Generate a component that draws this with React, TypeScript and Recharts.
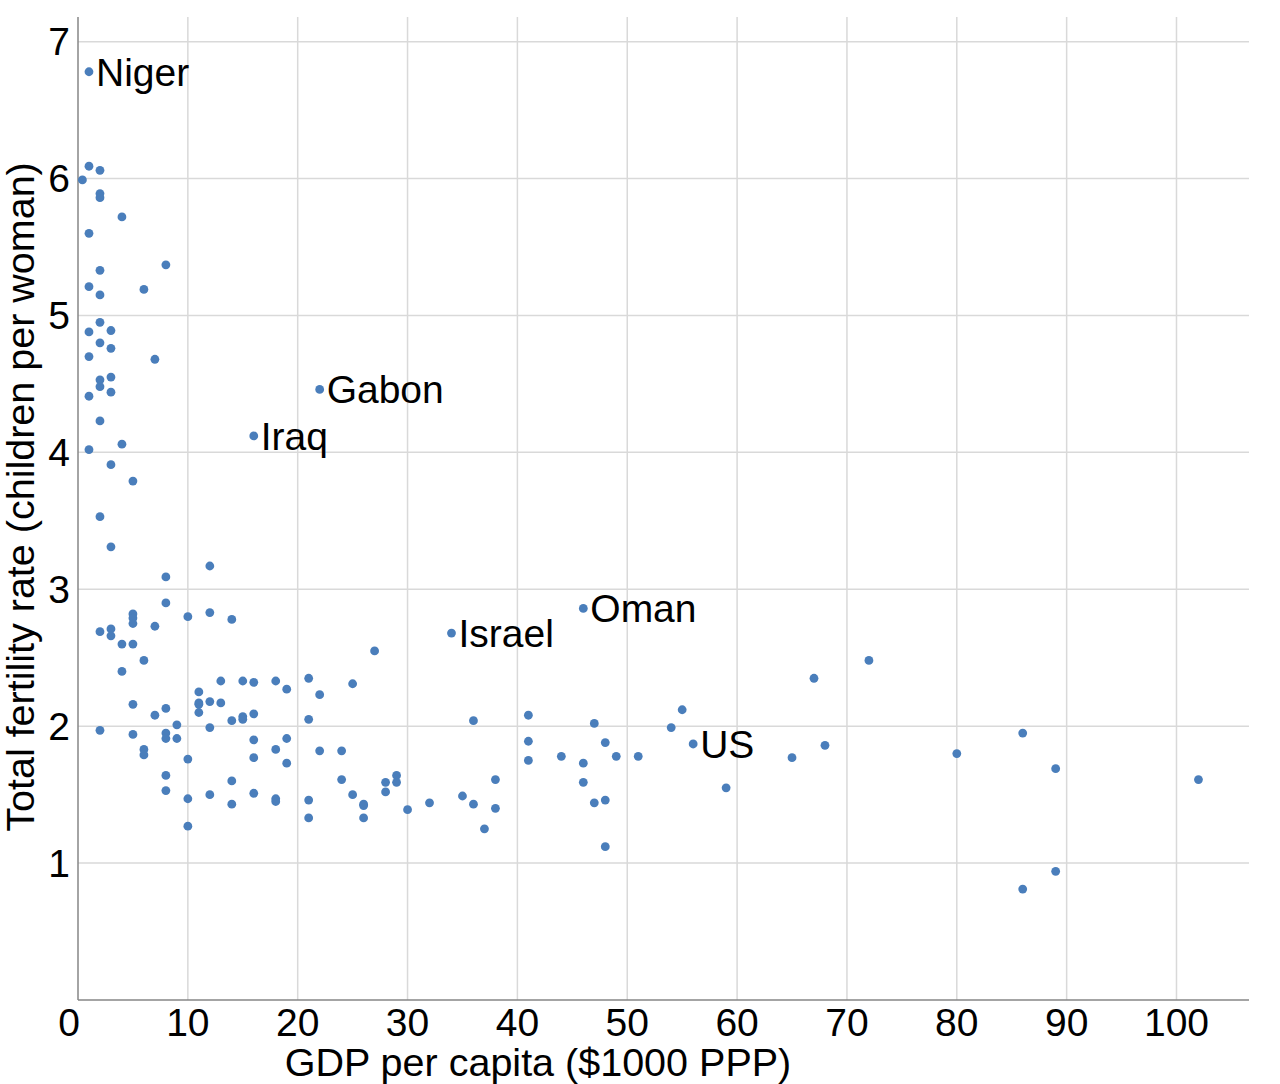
import { ReferenceLine, Scatter, ScatterChart, XAxis, YAxis } from "recharts";

// GDP per capita ($1000 PPP) and fertility rate
const gdp = [
  1, 2, 0.4, 2, 2, 4, 1, 8, 2, 1, 2, 6,
  2, 1, 3, 2, 3, 1, 7, 2, 3, 2, 3, 1, 2, 1, 4, 3, 5, 2, 3,
  12, 8, 8, 5, 5, 5, 10, 12, 14, 7, 2, 3, 3, 4, 5, 6, 4, 27,
  13, 15, 16, 18, 21, 19, 22, 25,
  11, 11, 11, 11, 12, 13, 5, 8, 7, 9, 12, 14, 15, 15, 16, 21,
  2, 5, 8, 8, 9, 16, 19, 6, 6, 10, 16, 18, 19, 22, 24,
  8, 8, 10, 10, 12, 14, 14, 16, 18, 18, 21, 21, 24, 25, 26, 26, 26, 28, 28, 29, 29, 30, 32,
  36, 41, 41, 41, 47, 48, 49, 51, 44, 46, 46, 54, 55, 65, 59, 38, 35, 36, 38, 37, 47, 48, 48,
  67, 72, 68, 80, 86, 89, 102, 89, 86,
];

const fertility = [
  6.09, 6.06, 5.99, 5.89, 5.86, 5.72, 5.6, 5.37, 5.33, 5.21, 5.15, 5.19,
  4.95, 4.88, 4.89, 4.8, 4.76, 4.7, 4.68, 4.53, 4.55, 4.48, 4.44, 4.41, 4.23, 4.02, 4.06, 3.91, 3.79, 3.53, 3.31,
  3.17, 3.09, 2.9, 2.82, 2.79, 2.75, 2.8, 2.83, 2.78, 2.73, 2.69, 2.71, 2.66, 2.6, 2.6, 2.48, 2.4, 2.55,
  2.33, 2.33, 2.32, 2.33, 2.35, 2.27, 2.23, 2.31,
  2.25, 2.17, 2.16, 2.1, 2.18, 2.17, 2.16, 2.13, 2.08, 2.01, 1.99, 2.04, 2.07, 2.05, 2.09, 2.05,
  1.97, 1.94, 1.95, 1.91, 1.91, 1.9, 1.91, 1.83, 1.79, 1.76, 1.77, 1.83, 1.73, 1.82, 1.82,
  1.64, 1.53, 1.47, 1.27, 1.5, 1.6, 1.43, 1.51, 1.47, 1.45, 1.46, 1.33, 1.61, 1.5, 1.43, 1.42, 1.33, 1.59, 1.52, 1.64, 1.59, 1.39, 1.44,
  2.04, 2.08, 1.89, 1.75, 2.02, 1.88, 1.78, 1.78, 1.78, 1.73, 1.59, 1.99, 2.12, 1.77, 1.55, 1.61, 1.49, 1.43, 1.4, 1.25, 1.44, 1.46, 1.12,
  2.35, 2.48, 1.86, 1.8, 1.95, 1.69, 1.61, 0.94, 0.81,
];

const countries = ["Niger", "Gabon", "Iraq", "Israel", "Oman", "US"];
const countryGdp = [1, 22, 16, 34, 46, 56];
const countryFertility = [6.78, 4.46, 4.12, 2.68, 2.86, 1.87];

const xTicks = [0, 10, 20, 30, 40, 50, 60, 70, 80, 90, 100];
const yTicks = [1, 2, 3, 4, 5, 6, 7];

const points = gdp.map((x, i) => ({ x, y: fertility[i] }));
const named = countries.map((name, i) => ({
  x: countryGdp[i],
  y: countryFertility[i],
  name,
}));

const FONT = '"Liberation Sans", Arial, sans-serif';
const BLUE = "#4a7ebb";
const GRID = "#d9d9d9";

function Dot(props: any) {
  const { cx, cy, payload } = props;
  return (
    <g>
      <circle cx={cx} cy={cy} r={4.4} fill={BLUE} />
      {payload && payload.name ? (
        <text
          x={cx + 7}
          y={cy}
          dy="0.36em"
          fontSize={39}
          fontFamily={FONT}
          fill="#000"
        >
          {payload.name}
        </text>
      ) : null}
    </g>
  );
}

function XTick(props: any) {
  const { x, y, payload } = props;
  const zero = payload.value === 0;
  return (
    <text
      x={zero ? x + 2 : x}
      y={y}
      dy="0.71em"
      textAnchor={zero ? "end" : "middle"}
      fontSize={39}
      fontFamily={FONT}
      fill="#000"
    >
      {payload.value}
    </text>
  );
}

function XTitle(props: any) {
  const { viewBox } = props;
  return (
    <text
      x={viewBox.x + 460}
      y={viewBox.y + 76}
      textAnchor="middle"
      fontSize={39.5}
      fontFamily={FONT}
      fill="#000"
    >
      GDP per capita ($1000 PPP)
    </text>
  );
}

function YTitle() {
  return (
    <text
      x={34}
      y={497}
      textAnchor="middle"
      transform="rotate(-90, 34, 497)"
      fontSize={39.5}
      fontFamily={FONT}
      fill="#000"
    >
      Total fertility rate (children per woman)
    </text>
  );
}

export default function App() {
  return (
    <div style={{ position: "absolute", left: 0, top: 0, background: "#fff" }}>
      <ScatterChart
        width={1280}
        height={1084}
        margin={{ top: 17, right: 31, bottom: 0, left: 0 }}
        style={{ fontFamily: FONT }}
      >
        {/* grid only at the tick values: no frame on the top or right edge */}
        {xTicks
          .filter((t) => t > 0)
          .map((t) => (
            <ReferenceLine key={"gx" + t} x={t} stroke={GRID} strokeWidth={1.5} />
          ))}
        {yTicks.map((t) => (
          <ReferenceLine key={"gy" + t} y={t} stroke={GRID} strokeWidth={1.5} />
        ))}
        <XAxis
          type="number"
          dataKey="x"
          domain={[0, 106.6]}
          ticks={xTicks}
          allowDataOverflow
          height={84}
          tickLine={false}
          tickSize={0}
          tickMargin={8}
          axisLine={{ stroke: "#868686", strokeWidth: 1.5 }}
          tick={<XTick />}
          label={<XTitle />}
        />
        <YAxis
          type="number"
          dataKey="y"
          domain={[0, 7.18]}
          ticks={yTicks}
          allowDataOverflow
          width={78}
          tickLine={false}
          tickSize={0}
          tickMargin={8}
          axisLine={{ stroke: "#868686", strokeWidth: 1.5 }}
          tick={{ fontSize: 39, fill: "#000", fontFamily: FONT }}
          label={<YTitle />}
        />
        <Scatter data={points} shape={<Dot />} isAnimationActive={false} />
        <Scatter data={named} shape={<Dot />} isAnimationActive={false} />
      </ScatterChart>
    </div>
  );
}
